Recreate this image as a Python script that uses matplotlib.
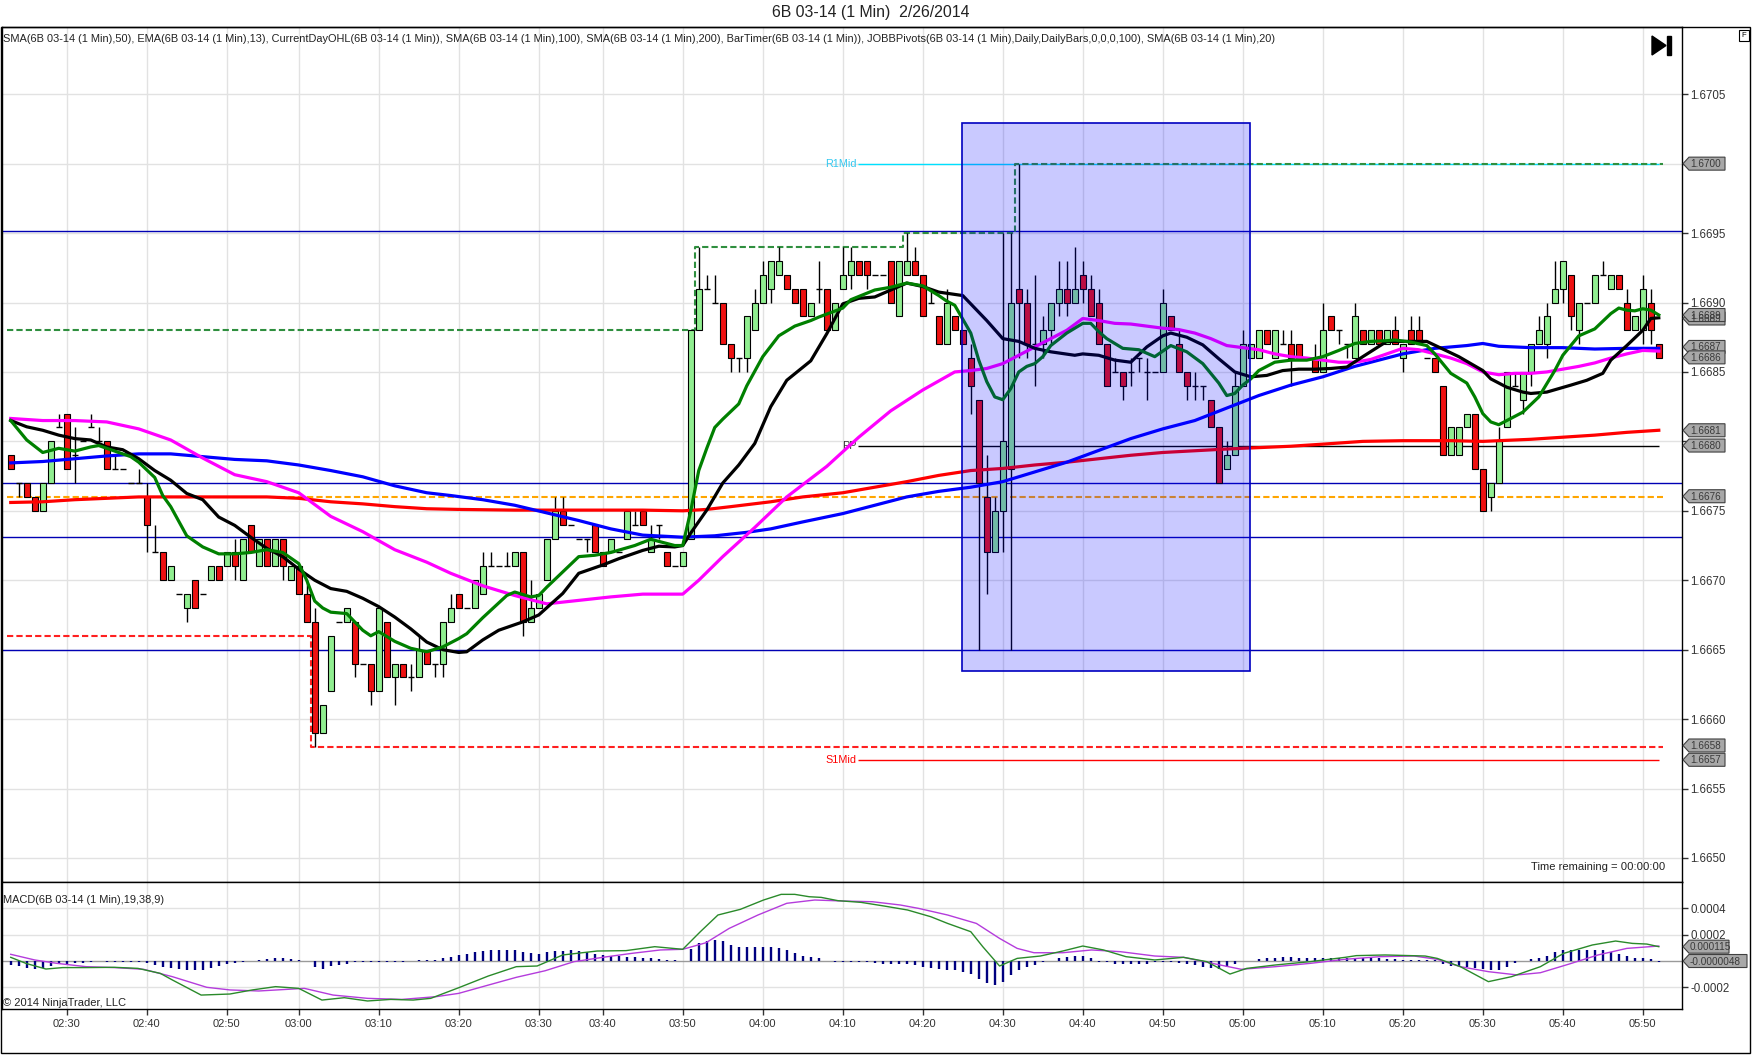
import numpy as np
import matplotlib
matplotlib.use("Agg")
import matplotlib.pyplot as plt
from matplotlib.patches import Rectangle, Polygon

plt.rcParams["font.family"] = ["Liberation Sans", "DejaVu Sans"]

# ---------------------------------------------------------------------------
# data (prices are given in pips above BASE, 1 pip = 0.0001)
# ---------------------------------------------------------------------------
BASE = 1.6600
PIP = 0.0001

bar_open = [
    79, 77, 77, 76, 75, 77, 81, 82, 79, 80,
    81, 80, 80, 78, 78, 77, 77, 76, 72, 72,
    70, 69, 68, 70, 69, 70, 71, 71, 72, 70,
    74, 71, 73, 71, 73, 70, 71, 69, 67, 59,
    62, 67, 67, 67, 64, 64, 62, 67, 63, 64,
    63, 63, 65, 64, 64, 67, 69, 68, 68, 69,
    71, 71, 71, 71, 72, 67, 68, 70, 73, 75,
    74, 73, 73, 74, 72, 72, 72, 73, 74, 75,
    72, 74, 72, 71, 71, 73, 88, 91, 90, 90,
    87, 86, 86, 88, 90, 91, 92, 92, 91, 91,
    89, 91, 91, 88, 91, 92, 93, 93, 92, 92,
    93, 89, 92, 93, 92, 90, 89, 87, 89, 88,
    86, 83, 76, 72, 75, 78, 91, 90, 87, 87,
    88, 90, 91, 90, 92, 91, 90, 87, 85, 85,
    85, 86, 85, 85, 85, 89, 87, 85, 84, 84,
    83, 81, 78, 79, 84, 86, 86, 88, 86, 87,
    87, 87, 86, 86, 85, 89, 88, 87, 86, 88,
    87, 88, 87, 88, 86, 88, 88, 86, 86, 84,
    79, 79, 81, 82, 78, 76, 77, 81, 84, 83,
    85, 87, 87, 90, 91, 92, 88, 90, 90, 92,
    91, 92, 90, 88, 88, 90, 87,
]
bar_high = [
    79, 77, 77, 76, 77, 80, 82, 82, 81, 80,
    82, 81, 80, 79, 78, 77, 78, 77, 74, 72,
    71, 69, 69, 70, 69, 71, 71, 72, 73, 73,
    74, 73, 73, 73, 73, 71, 71, 70, 68, 61,
    66, 67, 68, 67, 64, 64, 68, 67, 64, 64,
    64, 66, 65, 64, 67, 69, 69, 68, 70, 72,
    72, 71, 72, 72, 72, 70, 69, 73, 76, 76,
    74, 73, 73, 74, 72, 73, 72, 75, 75, 75,
    74, 74, 72, 71, 72, 88, 94, 92, 92, 90,
    87, 86, 89, 91, 93, 93, 94, 92, 91, 91,
    90, 93, 91, 90, 94, 94, 93, 93, 92, 92,
    93, 93, 95, 94, 92, 91, 89, 91, 89, 88,
    87, 83, 79, 76, 95, 95, 100, 91, 92, 89,
    90, 93, 93, 94, 93, 92, 91, 87, 86, 85,
    86, 86, 86, 85, 91, 89, 88, 85, 85, 84,
    83, 81, 80, 85, 88, 87, 88, 88, 88, 88,
    88, 87, 86, 87, 90, 89, 88, 87, 90, 88,
    88, 88, 88, 89, 87, 89, 89, 86, 86, 84,
    81, 81, 82, 82, 78, 77, 81, 85, 85, 85,
    87, 89, 90, 93, 93, 92, 90, 90, 92, 93,
    92, 92, 91, 89, 92, 91, 87,
]
bar_low = [
    78, 76, 76, 75, 75, 77, 81, 78, 77, 80,
    81, 80, 78, 78, 78, 77, 77, 72, 72, 70,
    70, 69, 67, 68, 69, 70, 70, 71, 70, 70,
    72, 71, 71, 71, 70, 70, 69, 67, 58, 59,
    62, 67, 67, 63, 64, 61, 62, 63, 61, 63,
    62, 63, 64, 63, 63, 67, 68, 68, 68, 69,
    71, 71, 71, 71, 66, 67, 68, 70, 73, 74,
    74, 73, 72, 72, 71, 72, 72, 73, 74, 74,
    72, 73, 71, 71, 71, 73, 88, 91, 90, 87,
    85, 85, 85, 88, 90, 90, 92, 91, 90, 89,
    89, 90, 88, 88, 91, 91, 92, 91, 92, 92,
    90, 89, 92, 92, 89, 90, 87, 87, 88, 87,
    82, 65, 69, 72, 72, 65, 86, 86, 84, 86,
    87, 89, 89, 90, 90, 89, 87, 84, 85, 83,
    84, 85, 83, 85, 85, 88, 85, 83, 83, 83,
    81, 77, 78, 79, 84, 86, 86, 87, 86, 87,
    84, 86, 86, 85, 85, 88, 87, 86, 86, 87,
    87, 87, 87, 87, 85, 87, 87, 86, 85, 79,
    79, 79, 81, 78, 75, 75, 77, 81, 84, 82,
    84, 87, 86, 90, 90, 88, 87, 90, 90, 92,
    91, 91, 88, 88, 87, 87, 86,
]
bar_close = [
    78, 77, 76, 75, 77, 80, 81, 78, 79, 80,
    81, 80, 78, 78, 78, 77, 77, 74, 72, 70,
    71, 69, 69, 68, 69, 71, 70, 72, 71, 73,
    72, 73, 71, 73, 71, 71, 69, 67, 59, 61,
    66, 67, 68, 64, 64, 62, 68, 63, 64, 63,
    63, 65, 64, 64, 67, 68, 68, 68, 70, 71,
    71, 71, 71, 72, 67, 68, 69, 73, 75, 74,
    74, 73, 73, 72, 71, 73, 72, 75, 74, 74,
    73, 74, 71, 71, 72, 88, 91, 91, 90, 87,
    86, 86, 89, 90, 92, 93, 93, 91, 90, 89,
    90, 91, 88, 90, 92, 93, 92, 92, 92, 92,
    90, 93, 93, 92, 89, 90, 87, 90, 88, 87,
    84, 77, 72, 75, 80, 90, 90, 87, 87, 88,
    90, 91, 90, 91, 91, 89, 87, 84, 85, 84,
    85, 86, 85, 85, 90, 88, 85, 84, 84, 84,
    81, 77, 79, 84, 87, 87, 88, 87, 88, 87,
    86, 86, 86, 85, 88, 88, 88, 87, 89, 87,
    88, 87, 88, 87, 87, 87, 87, 86, 85, 79,
    81, 81, 82, 78, 75, 77, 80, 85, 84, 85,
    87, 88, 89, 91, 93, 89, 90, 90, 92, 92,
    92, 91, 88, 89, 91, 88, 86,
]

# moving averages at the listed bar positions (pips)
sma50_x = [0, 4, 8, 12, 16, 20, 24, 28, 32, 36, 40, 44, 48, 52, 55, 59, 63, 67, 71, 75,
           79, 84, 86, 89, 93, 97, 102, 106, 110, 114, 118, 120, 122, 124, 126, 128, 130, 132, 134, 136,
           138, 140, 142, 144, 146, 148, 150, 152, 154, 156, 158, 160, 162, 164, 166, 168, 170, 172, 174, 176,
           178, 180, 182, 184, 186, 188, 190, 192, 194, 196, 198, 200, 202, 204, 206]
sma50_y = [81.65, 81.5, 81.5, 81.4, 80.9, 80.1, 78.8, 77.6, 77.1, 76.3, 74.6, 73.5, 72.2, 71.3, 70.5, 69.6, 68.9, 68.3, 68.55, 68.8,
           69.0, 69.0, 70.0, 71.7, 73.8, 76.0, 78.2, 80.3, 82.2, 83.7, 85.0, 85.1, 85.25, 85.6, 86.2, 86.8, 87.4, 88.0, 88.85, 88.7,
           88.5, 88.45, 88.3, 88.15, 88.05, 87.8, 87.4, 86.9, 86.75, 86.6, 86.3, 86.1, 86.0, 85.85, 85.7, 85.7, 85.9, 86.3, 86.7, 86.6,
           86.3, 86.0, 85.6, 85.0, 84.8, 84.9, 84.9, 85.0, 85.2, 85.4, 85.65, 86.0, 86.3, 86.55, 86.5]

sma100_x = [0, 4, 8, 12, 16, 20, 24, 28, 32, 36, 40, 44, 48, 52, 55, 59, 63, 67, 71, 75,
            79, 84, 88, 92, 95, 99, 104, 108, 112, 116, 120, 124, 128, 132, 136, 140, 144, 148, 152, 156,
            160, 164, 168, 172, 174, 178, 182, 184, 186, 190, 194, 198, 202, 206]
sma100_y = [78.45, 78.55, 78.75, 78.95, 79.1, 79.1, 78.9, 78.7, 78.6, 78.3, 77.9, 77.45, 76.8, 76.3, 76.1, 75.8, 75.4, 74.85, 74.3, 73.7,
            73.25, 73.1, 73.2, 73.45, 73.7, 74.2, 74.8, 75.4, 76.0, 76.4, 76.7, 77.1, 77.8, 78.5, 79.35, 80.2, 80.9, 81.5, 82.4, 83.3,
            84.05, 84.65, 85.4, 86.0, 86.3, 86.7, 86.9, 87.05, 86.85, 86.75, 86.75, 86.65, 86.7, 86.7]

sma200_x = [0, 4, 8, 12, 16, 20, 28, 32, 36, 40, 44, 48, 52, 56, 63, 71, 79, 84, 87, 90,
            95, 99, 104, 108, 112, 116, 120, 124, 128, 132, 136, 140, 144, 152, 160, 164, 169, 174, 180, 184,
            190, 194, 198, 202, 206]
sma200_y = [75.6, 75.65, 75.8, 75.9, 76.0, 76.0, 76.0, 76.0, 75.9, 75.65, 75.5, 75.3, 75.15, 75.1, 75.05, 75.05, 75.05, 75.0, 75.1, 75.3,
            75.65, 76.0, 76.3, 76.7, 77.1, 77.55, 77.9, 78.05, 78.3, 78.5, 78.75, 79.0, 79.2, 79.45, 79.65, 79.8, 80.0, 80.05, 80.05, 80.0,
            80.15, 80.3, 80.45, 80.65, 80.8]

ema13_x = [0, 2, 4, 6, 8, 10, 11, 13, 15, 16, 18, 19, 20, 22, 24, 26, 28, 30, 32, 34,
           36, 37, 38, 39, 40, 42, 44, 45, 46, 48, 50, 52, 54, 56, 57, 59, 62, 63, 65, 66,
           67, 69, 71, 73, 75, 78, 80, 83, 84, 85, 86, 87, 88, 89, 91, 92, 94, 96, 98, 100,
           101, 104, 105, 108, 110, 112, 114, 116, 117, 118, 120, 121, 122, 123, 124, 125, 126, 127, 128, 129,
           130, 132, 134, 135, 136, 137, 139, 141, 143, 145, 147, 149, 151, 152, 153, 154, 155, 156, 158, 160,
           162, 164, 166, 168, 170, 172, 173, 175, 177, 178, 179, 180, 182, 183, 184, 185, 186, 187, 189, 191,
           193, 194, 196, 198, 200, 201, 202, 203, 204, 205, 206]
ema13_y = [81.5, 80.1, 79.2, 79.5, 79.3, 79.6, 79.7, 79.3, 78.9, 78.5, 77.4, 76.1, 75.3, 73.2, 72.4, 71.9, 71.9, 72.0, 72.2, 72.0,
           71.2, 70.0, 68.5, 68.0, 67.7, 67.6, 66.4, 66.0, 66.3, 65.6, 65.1, 64.85, 65.2, 65.8, 66.15, 67.3, 68.9, 69.15, 68.8, 68.9,
           69.5, 70.6, 71.7, 71.8, 72.0, 72.5, 72.95, 72.5, 72.5, 75.0, 77.9, 79.5, 81.0, 81.6, 82.7, 84.0, 86.1, 87.6, 88.3, 88.7,
           88.95, 89.6, 90.2, 90.9, 91.1, 91.4, 91.2, 90.5, 90.1, 89.8, 87.8, 85.85, 84.3, 83.2, 83.0, 83.8, 85.0, 85.4, 85.6, 86.1,
           86.9, 87.8, 88.5, 88.5, 87.9, 87.4, 86.7, 86.6, 86.1, 86.9, 86.45, 85.6, 84.2, 83.3, 83.45, 84.05, 84.5, 85.1, 85.7, 85.85,
           85.85, 86.1, 86.55, 87.05, 87.2, 87.25, 87.3, 87.15, 86.9, 86.3, 85.6, 84.9, 84.2, 83.2, 82.0, 81.4, 81.2, 81.5, 82.1, 83.2,
           85.1, 86.2, 87.6, 88.1, 89.2, 89.6, 89.45, 89.4, 89.55, 89.45, 89.1]

sma20_x = [0, 2, 4, 6, 8, 10, 12, 14, 16, 18, 20, 22, 24, 26, 28, 30, 32, 34, 36, 38,
           40, 42, 44, 46, 48, 50, 52, 54, 56, 57, 59, 61, 64, 66, 69, 71, 74, 76, 79, 81,
           83, 84, 85, 87, 89, 91, 93, 95, 97, 100, 102, 104, 106, 108, 110, 112, 114, 116, 119, 120,
           122, 124, 126, 128, 130, 133, 134, 136, 138, 140, 142, 144, 145, 147, 149, 151, 153, 155, 157, 159,
           161, 163, 165, 167, 169, 172, 177, 181, 184, 185, 187, 189, 190, 192, 195, 197, 199, 200, 202, 204,
           205, 206]
sma20_y = [81.5, 81.05, 80.8, 80.45, 80.2, 80.1, 79.6, 79.4, 78.75, 77.9, 77.2, 76.25, 75.8, 74.55, 73.95, 73.1, 72.3, 71.7, 70.8, 70.0,
           69.4, 69.2, 68.7, 68.1, 67.35, 66.5, 65.55, 65.0, 64.8, 64.85, 65.7, 66.4, 67.0, 67.5, 69.05, 70.5, 71.1, 71.55, 72.15, 72.45,
           72.4, 72.5, 73.4, 75.05, 77.0, 78.3, 79.85, 82.5, 84.4, 85.8, 87.75, 89.9, 90.3, 90.4, 90.9, 91.4, 91.15, 90.75, 90.5, 89.9,
           88.7, 87.4, 87.2, 86.7, 86.45, 86.2, 86.3, 86.2, 85.85, 85.7, 86.8, 87.6, 87.8, 87.5, 86.95, 85.95, 85.0, 84.65, 84.75, 85.1,
           85.2, 85.2, 85.25, 85.35, 86.1, 87.2, 87.2, 86.1, 85.1, 84.5, 83.9, 83.55, 83.45, 83.55, 84.05, 84.4, 84.9, 85.85, 86.9, 88.0,
           88.85, 88.9]

# current day OHL steps (bar position where level starts, level in pips)
day_high_x = [-0.5, 85.5, 111.5, 125.5, 206.5]
day_high_y = [88, 94, 95, 100, 100]
day_low_x = [-0.5, 37.5, 206.5]
day_low_y = [66, 58, 58]
day_open = 76

# JOBB pivots
pivot_levels = [95.17, 76.97, 73.12, 64.95]
mid_names = ["R1Mid", "PP", "S1Mid"]
mid_levels = [100.0, 79.7, 57.05]
mid_colors = ["#00E0FF", "black", "red"]
mid_text_colors = ["#33C8F0", "#333333", "red"]

# highlighted region (bar range, pips)
box_bars = (118.9, 154.9)
box_pips = (63.5, 102.9)

# MACD (units of 0.0001)
macd_x = [0, 1.9, 4.4, 6.5, 9.4, 13, 15.9, 18.7, 20.2, 23.8, 27.4, 30.2, 33.1, 36, 38.9, 41.7, 44.6, 47.5, 50.3, 52.5,
          56, 59.7, 63.2, 65.8, 69, 73.3, 76.9, 80.5, 84, 86.2, 88.4, 91.2, 94.1, 96.3, 98, 99.8, 101.3, 103.4, 106.3, 109.2,
          112.1, 115, 117.1, 120, 121.5, 123.6, 125.8, 128.7, 131.5, 134, 136.6, 139.4, 143, 146.6, 149.5, 152.4, 154.5, 158.1, 162.4, 166.8,
          168.2, 171.8, 176.8, 178.3, 181.2, 184.7, 187.6, 191.2, 194.1, 197.7, 200.6, 202.7, 204.5, 206]
macd_y = [0.28, -0.18, -0.61, -0.5, -0.5, -0.48, -0.56, -0.94, -1.44, -2.59, -2.51, -2.2, -1.95, -2.08, -2.97, -2.79, -3.04, -2.92, -2.97, -2.84,
          -2.03, -1.14, -0.43, -0.38, 0.46, 0.76, 0.79, 1.09, 0.89, 2.23, 3.5, 3.93, 4.64, 5.07, 5.07, 4.89, 4.84, 4.59, 4.46, 4.18,
          3.88, 3.37, 2.86, 2.23, 1.09, -0.38, 0.2, 0.38, 0.76, 1.14, 0.84, 0.33, 0.08, 0.28, -0.05, -0.99, -0.56, -0.3, -0.05, 0.28,
          0.41, 0.46, 0.38, 0.2, -0.43, -1.57, -1.19, -0.43, 0.58, 1.22, 1.52, 1.34, 1.29, 1.09]
signal_x = [0, 3, 5.8, 9.4, 13, 16.6, 20.2, 24.5, 27.4, 31, 36.7, 40.3, 44.6, 48.9, 53.2, 56, 59.7, 63.2, 66.8, 70.4,
            74, 77.6, 81.2, 84, 86.9, 89.8, 93.4, 97, 100.5, 104.2, 107.7, 111.2, 113.5, 117.1, 120.7, 123.6, 125.8, 127.9, 131.5, 135.1,
            138.7, 143, 146.6, 150.2, 153.8, 158.1, 162.4, 166.8, 171.1, 175.4, 178.3, 181.2, 184.7, 188.3, 191.2, 194.8, 198.4, 202, 206]
signal_y = [0.51, 0.08, -0.18, -0.43, -0.5, -0.63, -1.19, -2.0, -2.2, -2.28, -2.08, -2.59, -2.84, -2.92, -2.71, -2.46, -1.83, -1.24, -0.74, -0.05,
            0.28, 0.58, 0.84, 0.89, 1.39, 2.48, 3.5, 4.39, 4.64, 4.56, 4.51, 4.26, 4.0, 3.5, 2.86, 1.72, 0.96, 0.63, 0.63, 0.84,
            0.71, 0.38, 0.28, -0.18, -0.63, -0.43, -0.18, 0.13, 0.33, 0.38, 0.13, -0.43, -0.81, -1.06, -0.89, -0.23, 0.46, 0.96, 1.14]
macd_hist = [
    -0.3, -0.4, -0.55, -0.6, -0.5, -0.4, -0.25, -0.2, -0.15, -0.15,
    -0.05, 0, -0.05, -0.05, -0.05, -0.05, -0.1, -0.15, -0.3, -0.45,
    -0.55, -0.6, -0.65, -0.7, -0.65, -0.55, -0.4, -0.25, -0.15, -0.05,
    0, 0.1, 0.15, 0.2, 0.2, 0.15, 0.1, 0, -0.45, -0.6,
    -0.4, -0.3, -0.2, -0.1, -0.1, -0.1, -0.1, -0.05, -0.05, -0.05,
    0, 0.05, 0.05, 0.1, 0.2, 0.3, 0.45, 0.55, 0.65, 0.75,
    0.8, 0.85, 0.85, 0.8, 0.7, 0.6, 0.55, 0.7, 0.75, 0.75,
    0.8, 0.75, 0.65, 0.55, 0.45, 0.4, 0.35, 0.3, 0.3, 0.25,
    0.2, 0.15, 0.1, 0.05, 0, 0.9, 1.35, 1.55, 1.6, 1.5,
    1.2, 1.05, 1.05, 1.05, 1.05, 1.05, 1.0, 0.8, 0.6, 0.35,
    0.3, 0.25, 0, -0.05, -0.05, -0.05, -0.1, -0.1, -0.15, -0.2,
    -0.2, -0.25, -0.25, -0.3, -0.45, -0.55, -0.6, -0.65, -0.7, -0.8,
    -1.0, -1.4, -1.65, -1.8, -1.6, -1.05, -0.65, -0.45, -0.3, -0.05,
    0, 0.2, 0.3, 0.35, 0.35, 0.25, -0.05, -0.1, -0.2, -0.2,
    -0.2, -0.2, -0.2, -0.05, -0.05, -0.1, -0.15, -0.25, -0.3, -0.45,
    -0.55, -0.6, -0.45, -0.25, 0, 0, 0.15, 0.2, 0.25, 0.3,
    0.3, 0.25, 0.25, 0.2, 0.2, 0.25, 0.25, 0.25, 0.2, 0.2,
    0.2, 0.2, 0.15, 0.15, 0.1, 0.1, 0.1, 0.05, 0.05, -0.25,
    -0.35, -0.4, -0.45, -0.5, -0.6, -0.7, -0.65, -0.45, -0.15, 0,
    0.15, 0.25, 0.4, 0.65, 0.85, 0.85, 0.8, 0.8, 0.8, 0.8,
    0.7, 0.55, 0.35, 0.25, 0.25, 0.15, -0.05,
]

time_ticks = [7, 17, 27, 36, 46, 56, 66, 74, 84, 94, 104, 114, 124, 134, 144, 154, 164, 174, 184, 194, 204]
time_labels = ["02:30", "02:40", "02:50", "03:00", "03:10", "03:20", "03:30", "03:40", "03:50", "04:00", "04:10",
               "04:20", "04:30", "04:40", "04:50", "05:00", "05:10", "05:20", "05:30", "05:40", "05:50"]

# axis labels that the price tags cover in the original are left blank
price_ticks = [1.6650, 1.6655, 1.6660, 1.6665, 1.6670, 1.6675, 1.6680, 1.6685, 1.6690, 1.6695, 1.6700, 1.6705]
price_tick_labels = ["1.6650", "1.6655", "1.6660", "1.6665", "1.6670", "1.6675", "", "1.6685", "1.6690", "1.6695", "", "1.6705"]

price_tag_vals = [100.0, 88.85, 89.1, 86.8, 86.05, 80.8, 79.7, 76.05, 58.1, 57.07]
price_tag_text = ["1.6700", "1.6689", "1.6689", "1.6687", "1.6686", "1.6681", "1.6680", "1.6676", "1.6658", "1.6657"]
macd_tag_vals = [1.09, 0.0]
macd_tag_text = ["0.000115", "-0.0000048"]

header = ("SMA(6B 03-14 (1 Min),50), EMA(6B 03-14 (1 Min),13), CurrentDayOHL(6B 03-14 (1 Min)), "
          "SMA(6B 03-14 (1 Min),100), SMA(6B 03-14 (1 Min),200), BarTimer(6B 03-14 (1 Min)), "
          "JOBBPivots(6B 03-14 (1 Min),Daily,DailyBars,0,0,0,100), SMA(6B 03-14 (1 Min),20)")


def px(p):
    return BASE + np.asarray(p, dtype=float) * PIP


# ---------------------------------------------------------------------------
# layout (pixel based)
# ---------------------------------------------------------------------------
W, H = 1752, 1055
fig = plt.figure(figsize=(W / 100, H / 100), dpi=100)
fig.patch.set_facecolor("white")


def fig_rect(x0, y0, x1, y1):
    return [x0 / W, 1 - y1 / H, (x1 - x0) / W, (y1 - y0) / H]


ax = fig.add_axes(fig_rect(2, 27, 1682, 882))
mx = fig.add_axes(fig_rect(2, 882, 1682, 1009), sharex=ax)

XL = (-1.09, 208.9)
ax.set_xlim(*XL)
ax.set_ylim(px(48.27), px(109.84))
mx.set_ylim(-0.000365, 0.000601)

for a in (ax, mx):
    a.set_facecolor("white")
    for s in a.spines.values():
        s.set_color("black")
        s.set_linewidth(1)
    a.set_axisbelow(True)
    a.yaxis.tick_right()

# grid
ax.set_xticks(time_ticks)
ax.tick_params(axis="x", length=0, labelbottom=False)
ax.grid(True, color="#E2E2E2", lw=1)
mx.grid(True, color="#E2E2E2", lw=1)

# price axis
ax.set_yticks(price_ticks)
ax.set_yticklabels(price_tick_labels)
ax.tick_params(axis="y", direction="out", length=4, width=1, pad=2, labelsize=8.3, colors="#333333")

mx.set_yticks([0.0004, 0.0002, -0.0002])
mx.set_yticklabels(["0.0004", "0.0002", "-0.0002"])
mx.tick_params(axis="y", direction="out", length=4, width=1, pad=2, labelsize=8.3, colors="#333333")
mx.set_xticks(time_ticks)
mx.set_xticklabels(time_labels)
mx.tick_params(axis="x", direction="out", length=4, width=1, pad=3, labelsize=8, colors="#333333")

# ---------------------------------------------------------------------------
# price panel
# ---------------------------------------------------------------------------
o = np.array(bar_open)
h = np.array(bar_high)
l = np.array(bar_low)
c = np.array(bar_close)
idx = np.arange(len(o))
up = c > o
dn = c < o
fl = c == o

# day open / high / low
ax.hlines(px(day_open), -0.5, 206.5, color="#FFA500", lw=1.5, linestyles=(0, (3, 1.5)), zorder=2)
ax.plot(day_high_x, px(day_high_y), drawstyle="steps-post", color="#2F8F3F", lw=1.5,
        dashes=(3, 1.5), zorder=2.2)
ax.plot(day_low_x, px(day_low_y), drawstyle="steps-post", color="#FF2020", lw=1.5,
        dashes=(3, 1.5), zorder=2.2)

# pivots
for lv in pivot_levels:
    ax.axhline(px(lv), color="#0000B4", lw=1, zorder=2.1)
for name, lv, col, tcol in zip(mid_names, mid_levels, mid_colors, mid_text_colors):
    ax.hlines(px(lv), 105.9, 206.0, color=col, lw=1, zorder=2.1)
    ax.text(105.7, px(lv), name, ha="right", va="center", fontsize=7.8, color=tcol, zorder=2.1)

# candles
ax.vlines(idx, px(l), px(h), color="black", lw=1, zorder=3)
ax.bar(idx[up], px(c[up]) - px(o[up]), bottom=px(o[up]), width=0.8, color="#90EE90",
       edgecolor="black", linewidth=0.8, zorder=3.2)
ax.bar(idx[dn], px(o[dn]) - px(c[dn]), bottom=px(c[dn]), width=0.8, color="#EE1111",
       edgecolor="black", linewidth=0.8, zorder=3.2)
ax.hlines(px(o[fl]), idx[fl] - 0.4, idx[fl] + 0.4, color="black", lw=1, zorder=3.2)

# moving averages
ax.plot(sma200_x, px(sma200_y), color="#FF0000", lw=2.3, zorder=4)
ax.plot(sma100_x, px(sma100_y), color="#0000FF", lw=2.3, zorder=4.1)
ax.plot(sma50_x, px(sma50_y), color="#FF00FF", lw=2.3, zorder=4.2)
ax.plot(sma20_x, px(sma20_y), color="black", lw=2.3, zorder=4.3)
ax.plot(ema13_x, px(ema13_y), color="#008000", lw=2.3, zorder=4.4)

# highlighted region drawn over everything
ax.add_patch(Rectangle((box_bars[0], px(box_pips[0])), box_bars[1] - box_bars[0],
                       px(box_pips[1]) - px(box_pips[0]), facecolor=(0, 0, 1, 0.21),
                       edgecolor="#0000C0", lw=1.2, zorder=6))

# ---------------------------------------------------------------------------
# MACD panel
# ---------------------------------------------------------------------------
mx.axhline(0, color="#9A9A9A", lw=1, zorder=2)
hist = np.array(macd_hist) * 1e-4
mx.vlines(idx, 0, hist, color="#000080", lw=1.7, zorder=3)
mx.plot(signal_x, np.array(signal_y) * 1e-4, color="#B43CDC", lw=1, zorder=4)
mx.plot(macd_x, np.array(macd_y) * 1e-4, color="#2A8A2A", lw=1, zorder=4.1)

# ---------------------------------------------------------------------------
# overlay in pixel coordinates
# ---------------------------------------------------------------------------
ov = fig.add_axes([0, 0, 1, 1], zorder=10)
ov.set_xlim(0, W)
ov.set_ylim(H, 0)
ov.axis("off")
ov.patch.set_alpha(0)

ov.add_patch(Rectangle((1, 27), 1749, 1026, fill=False, ec="black", lw=1))
ov.text(871, 13, "6B 03-14 (1 Min)  2/26/2014", ha="center", va="center", fontsize=11.4,
        color="#222222", family=["Liberation Sans Narrow", "Liberation Sans"])
ov.text(3, 39, header, ha="left", va="center", fontsize=7.9, color="#222222")
ov.text(3, 900, "MACD(6B 03-14 (1 Min),19,38,9)", ha="left", va="center", fontsize=7.9, color="#222222")
ov.text(3, 1003, "\u00a9 2014 NinjaTrader, LLC", ha="left", va="center", fontsize=8, color="#222222")
ov.text(1665, 867, "Time remaining = 00:00:00", ha="right", va="center", fontsize=8.1, color="#222222")

# play-to-end icon and F box
ov.add_patch(Polygon([(1652, 36), (1652, 55), (1666, 45.5)], closed=True, fc="black", ec="black"))
ov.add_patch(Rectangle((1667, 36), 4, 19, fc="black", ec="black"))
ov.add_patch(Rectangle((1739, 30), 10, 11, fill=False, ec="black", lw=0.8))
ov.text(1744, 35.5, "F", ha="center", va="center", fontsize=5.5)


def tag(axis, value, text, right):
    y = H - axis.transData.transform((0, value))[1]
    ov.add_patch(Polygon([(1683, y), (1689, y - 6.5), (right, y - 6.5), (right, y + 6.5), (1689, y + 6.5)],
                         closed=True, fc="#A8A8A8", ec="#404040", lw=0.8))
    ov.text(1690, y + 0.5, text, ha="left", va="center", fontsize=7.2, color="#3A3A3A")


for v, t in zip(price_tag_vals, price_tag_text):
    tag(ax, px(v), t, 1725)
tag(mx, macd_tag_vals[0] * 1e-4, macd_tag_text[0], 1729)
tag(mx, macd_tag_vals[1] * 1e-4, macd_tag_text[1], 1747)

fig.savefig("out.png", dpi=100)
